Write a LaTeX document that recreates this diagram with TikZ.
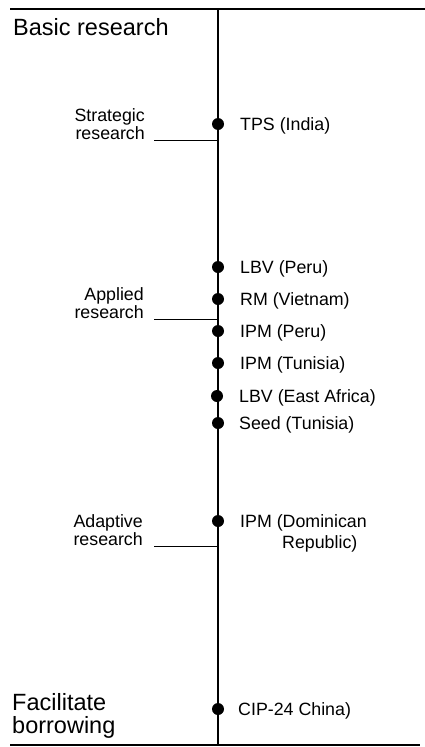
\documentclass[tikz,border=0pt]{standalone}
\usepackage{fontspec}
\setmainfont{Liberation Sans}
\usetikzlibrary{positioning}

\begin{document}
\begin{tikzpicture}[x=1pt, y=-1pt,
  dot/.style={circle, fill, inner sep=0pt, minimum size=12pt},
  big/.style={font=\fontsize{23.5}{23}\selectfont, inner sep=0pt, anchor=base west, align=left},
  small/.style={font=\fontsize{17.8}{17.5}\selectfont, inner sep=0pt},
  lab/.style={small, anchor=base west},
  level/.style={small, align=right, anchor=base east},
  leader/.style={line width=1pt}]
\useasboundingbox (0,0) rectangle (425,747);
% frame and axis
\coordinate (tl) at (10,9);
\coordinate (tr) at (425,9);
\coordinate (bl) at (10,745);
\coordinate (br) at (420,745);
\coordinate (top) at (218,9);
\coordinate (bot) at (218,745);
\draw[line width=1.5pt] (tl) -- (tr);
\draw[line width=1.5pt] (bl) -- (br);
\draw[line width=1.5pt] (top) -- (bot);
% ends of the scale
\node[big] (basic) at (13,35) {Basic research};
\node[big] (facil) at (12,733) {Facilitate\\borrowing};
% levels
\coordinate (sa) at (218,140);
\coordinate (sb) at (154,140);
\draw[leader] (sb) -- (sa);
\node[level] (strat) at (145,139) {Strategic\\research};
\coordinate (aa) at (218,319);
\coordinate (ab) at (154,319);
\draw[leader] (ab) -- (aa);
\node[level] (appl) at (144,318) {Applied\\research};
\coordinate (da) at (218,546);
\coordinate (db) at (154,546);
\draw[leader] (db) -- (da);
\node[level] (adapt) at (143,545) {Adaptive\\research};
% projects
\node[dot] (tps) at (218,124) {};
\node[lab] (tpslab) at (240,130) {TPS (India)};
\node[dot] (lbvp) at (218,267) {};
\node[lab] (lbvplab) at (240,273) {LBV (Peru)};
\node[dot] (rm) at (218,299) {};
\node[lab] (rmlab) at (240,305) {RM (Vietnam)};
\node[dot] (ipmp) at (218,331) {};
\node[lab] (ipmplab) at (240,337) {IPM (Peru)};
\node[dot] (ipmt) at (218,363) {};
\node[lab] (ipmtlab) at (240,369) {IPM (Tunisia)};
\node[dot] (lbve) at (217,396) {};
\node[lab] (lbvelab) at (239,402) {LBV (East Africa)};
\node[dot] (seed) at (218,423) {};
\node[lab] (seedlab) at (239,429) {Seed (Tunisia)};
\node[dot] (ipmd) at (218,521) {};
\node[lab] (ipmdlab) at (240,527) {IPM (Dominican};
\node[lab] (ipmdlab2) at (282,548) {Republic)};
\node[dot] (cip) at (218,709) {};
\node[lab] (ciplab) at (238,715) {CIP-24 China)};
\end{tikzpicture}
\end{document}
